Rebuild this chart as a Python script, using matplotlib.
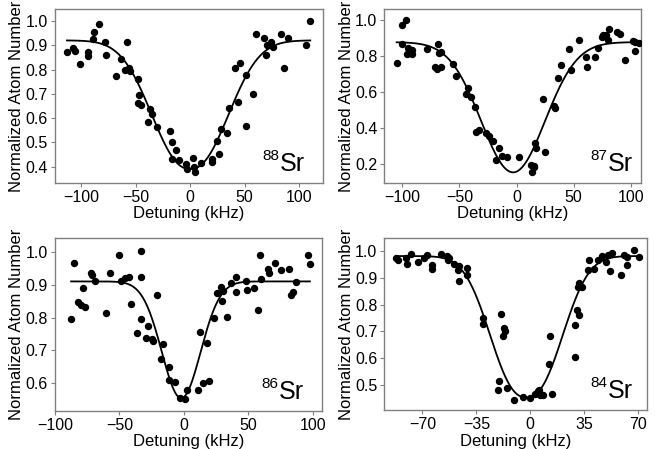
import numpy as np
import matplotlib
matplotlib.use("Agg")
import matplotlib.pyplot as plt

plt.rcParams['font.family'] = ['Liberation Sans', 'DejaVu Sans']

# 88Sr
det_88 = [-113.2, -107.4, -106.1, -101.2, -93.9, -93.9, -89.3, -88.7, -83.7, -77.9,
          -77.3, -68.1, -63.5, -60.1, -57.7, -56.4, -54.9, -48.2, -47.2, -47.9,
          -45.1, -38.7, -36.8, -35.0, -30.4, -18.1, -16.6, -16.6, -12.9, -10.7,
          -3.7, -2.8, 2.5, 3.4, 4.9, 10.4, 19.9, 20.2, 24.5, 26.7,
          28.8, 34.0, 35.6, 41.1, 45.4, 44.2, 50.9, 51.5, 57.4, 60.7,
          67.8, 69.6, 70.2, 74.5, 76.1, 83.1, 85.9, 90.2, 106.7, 110.4]
atoms_88 = [0.874, 0.887, 0.877, 0.821, 0.871, 0.854, 0.926, 0.953, 0.989, 0.912,
            0.860, 0.772, 0.843, 0.798, 0.912, 0.808, 0.795, 0.762, 0.695, 0.661,
            0.652, 0.584, 0.636, 0.617, 0.565, 0.545, 0.501, 0.430, 0.470, 0.427,
            0.409, 0.389, 0.434, 0.400, 0.379, 0.416, 0.433, 0.418, 0.505, 0.453,
            0.554, 0.540, 0.643, 0.808, 0.826, 0.666, 0.569, 0.776, 0.698, 0.945,
            0.929, 0.861, 0.900, 0.913, 0.894, 0.945, 0.808, 0.929, 0.900, 1.000]

# 87Sr
det_87 = [-105.0, -100.6, -97.0, -100.0, -94.8, -95.6, -93.3, -91.3, -91.8, -78.7,
          -71.5, -70.0, -66.2, -68.5, -67.9, -66.2, -55.9, -53.0, -42.7, -44.2,
          -40.1, -36.6, -35.7, -32.8, -27.0, -24.1, -20.3, -15.6, -18.0, -12.4,
          -8.6, 2.5, 12.7, 15.1, 13.3, 15.6, 16.4, 17.1, 25.2, 23.5,
          33.1, 34.0, 36.6, 39.0, 45.7, 48.0, 55.0, 60.9, 61.5, 68.8,
          71.7, 74.9, 76.0, 78.4, 79.9, 80.8, 88.1, 91.0, 95.0, 101.8,
          103.8, 107.0, 103.8]
atoms_87 = [0.760, 0.972, 1.000, 0.867, 0.843, 0.810, 0.824, 0.834, 0.812, 0.839,
            0.741, 0.727, 0.741, 0.867, 0.819, 0.821, 0.754, 0.690, 0.621, 0.588,
            0.573, 0.519, 0.381, 0.390, 0.372, 0.359, 0.328, 0.292, 0.226, 0.244,
            0.242, 0.239, 0.196, 0.183, 0.159, 0.189, 0.320, 0.292, 0.267, 0.560,
            0.525, 0.510, 0.680, 0.751, 0.839, 0.723, 0.889, 0.797, 0.738, 0.797,
            0.847, 0.904, 0.917, 0.917, 0.889, 0.948, 0.935, 0.922, 0.778, 0.885,
            0.876, 0.871, 0.828]

# 86Sr
det_86 = [-87.5, -85.5, -82.1, -80.0, -76.9, -78.5, -72.0, -71.5, -69.2, -60.4,
          -57.0, -50.5, -49.0, -45.9, -42.3, -41.0, -33.4, -33.2, -33.4, -36.6,
          -27.6, -29.6, -24.7, -23.7, -20.6, -16.4, -17.9, -11.7, -11.5, -6.6,
          -2.9, 0.7, 2.5, 10.8, 14.7, 19.8, 12.8, 18.2, 23.4, 33.5,
          29.6, 25.8, 28.9, 30.7, 36.6, 40.3, 40.8, 48.5, 49.3, 54.2,
          57.6, 59.4, 59.7, 65.6, 65.9, 70.5, 75.4, 81.9, 83.0, 84.5,
          86.8, 96.4, 97.9]
atoms_86 = [0.795, 0.965, 0.848, 0.839, 0.833, 0.890, 0.937, 0.930, 0.911, 0.814,
            0.935, 0.989, 0.912, 0.921, 0.923, 0.841, 1.001, 0.924, 0.795, 0.753,
            0.773, 0.738, 0.735, 0.728, 0.868, 0.720, 0.674, 0.649, 0.610, 0.604,
            0.556, 0.554, 0.581, 0.580, 0.600, 0.608, 0.757, 0.723, 0.798, 0.801,
            0.851, 0.874, 0.892, 0.881, 0.904, 0.922, 0.877, 0.910, 0.884, 0.889,
            0.822, 0.991, 0.917, 0.947, 0.937, 0.966, 0.946, 0.948, 0.868, 0.877,
            0.907, 0.991, 0.964]

# 84Sr
det_84 = [-87.2, -85.9, -80.6, -80.1, -77.3, -73.0, -68.7, -66.8, -63.9, -63.9,
          -57.9, -54.2, -53.1, -53.5, -49.4, -46.0, -46.7, -41.3, -46.0, -40.8,
          -30.5, -30.9, -19.2, -16.9, -17.5, -16.4, -20.3, -20.9, -15.3, -10.4,
          -4.9, 0.0, 3.0, 4.8, 5.8, 6.5, 8.0, 5.4, 13.9, 11.9,
          13.0, 29.2, 29.2, 31.8, 30.1, 30.7, 31.8, 33.5, 37.6, 38.2,
          41.5, 44.1, 46.9, 48.9, 50.2, 53.4, 51.8, 59.2, 60.9, 62.7,
          63.1, 67.4, 70.3]
atoms_84 = [0.974, 0.964, 0.971, 0.952, 0.989, 0.959, 0.974, 0.984, 0.947, 0.931,
            0.989, 0.980, 0.971, 0.964, 0.949, 0.943, 0.927, 0.937, 0.887, 0.908,
            0.749, 0.726, 0.766, 0.714, 0.683, 0.701, 0.515, 0.481, 0.488, 0.447,
            0.456, 0.454, 0.469, 0.479, 0.473, 0.464, 0.464, 0.481, 0.466, 0.580,
            0.684, 0.606, 0.724, 0.760, 0.778, 0.865, 0.879, 0.866, 0.927, 0.964,
            0.933, 0.965, 0.980, 0.959, 0.984, 0.990, 0.924, 0.908, 0.983, 0.978,
            0.945, 1.001, 0.978]

# fit: baseline, depth, center, width, exponent
fit_88 = (0.92, 0.53, 0.0, 46.0, 2.25)
fit_87 = (0.877, 0.722, -3.0, 39.5, 2.0)
fit_86 = (0.91, 0.355, -2.0, 21.2, 2.0)
fit_84 = (0.98, 0.525, -2.5, 29.6, 2.4)

labels = ['88', '87', '86', '84']
xticks = [[-100, -50, 0, 50, 100], [-100, -50, 0, 50, 100],
          [-100, -50, 0, 50, 100], [-70, -35, 0, 35, 70]]
yticks = [[0.4, 0.5, 0.6, 0.7, 0.8, 0.9, 1.0], [0.2, 0.4, 0.6, 0.8, 1.0],
          [0.6, 0.7, 0.8, 0.9, 1.0], [0.5, 0.6, 0.7, 0.8, 0.9, 1.0]]


def model(x, p):
    base, depth, c, w, n = p
    return base - depth * np.exp(-np.abs((x - c) / w) ** n)


def xfmt(v):
    return ('\u2212%d' % abs(v)) if v < 0 else '%d' % v


fig = plt.figure(figsize=(6.55, 4.49), dpi=100)

panels = [
    (det_88, atoms_88, fit_88, [0.084, 0.5931, 0.4096, 0.3862], (-124.2, 122.4), (0.334, 1.048), (0.932, 0.069)),
    (det_87, atoms_87, fit_87, [0.5867, 0.5924, 0.3919, 0.3869], (-115.8, 109.0), (0.096, 1.059), (0.970, 0.071)),
    (det_86, atoms_86, fit_86, [0.084, 0.0846, 0.4076, 0.3846], (-100.0, 107.3), (0.516, 1.041), (0.933, 0.069)),
    (det_84, atoms_84, fit_84, [0.5867, 0.0862, 0.4006, 0.3831], (-94.8, 75.6), (0.407, 1.046), (0.949, 0.070)),
]

for i, (x, y, fit, rect, xl, yl, tpos) in enumerate(panels):
    ax = fig.add_axes(rect)
    xs = np.linspace(min(x), max(x), 400)
    ax.plot(xs, model(xs, fit), color='black', lw=1.3, zorder=2)
    ax.plot(x, y, 'o', color='black', ms=4.3, zorder=3)
    ax.set_xlim(*xl)
    ax.set_ylim(*yl)
    ax.set_xticks(xticks[i])
    ax.set_xticklabels([xfmt(v) for v in xticks[i]])
    ax.set_yticks(yticks[i])
    ax.set_yticklabels(['%.1f' % v for v in yticks[i]])
    ax.set_xlabel('Detuning (kHz)', fontsize=12, labelpad=1)
    ax.set_ylabel('Normalized Atom Number', fontsize=12, labelpad=1)
    ax.tick_params(labelsize=11.5, length=3, width=0.8, color='#808080', pad=2)
    for s in ax.spines.values():
        s.set_color('#808080')
        s.set_linewidth(1.0)
    # isotope label: "Sr" with superscript mass number
    ax.annotate('Sr', xy=tpos, xycoords='axes fraction',
                ha='right', va='baseline', fontsize=18)
    ax.annotate(labels[i], xy=tpos, xycoords='axes fraction',
                xytext=(-18.5, 8), textcoords='offset points',
                ha='right', va='baseline', fontsize=11)

fig.savefig('out.png', dpi=100)
